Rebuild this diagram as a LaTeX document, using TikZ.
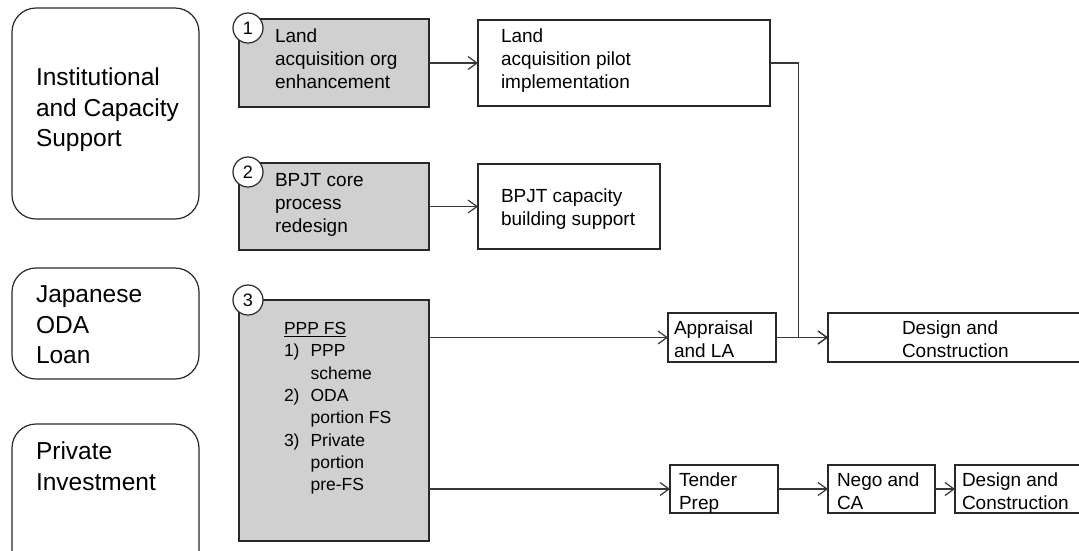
\documentclass[tikz,border=0pt]{standalone}
\usepackage{fontspec}
\setmainfont{Liberation Sans}
\usetikzlibrary{arrows.meta,calc}
\definecolor{boxgray}{RGB}{208,208,208}
\definecolor{edge}{RGB}{40,40,40}
\definecolor{wire}{RGB}{55,55,55}
\begin{document}
\begin{tikzpicture}[x=1pt,y=-1pt,
  every node/.style={inner sep=0pt,outer sep=0pt},
  group/.style={draw=edge,line width=1.2pt,rectangle,rounded corners=24pt,anchor=north west},
  plain/.style={draw=edge,line width=1.3pt,rectangle,anchor=north west,fill=white},
  shaded/.style={plain,fill=boxgray},
  num/.style={draw=edge,line width=1.2pt,circle,fill=white,minimum size=30pt,
    font=\fontsize{18}{20}\selectfont},
  bigtxt/.style={anchor=north west,align=left,font=\fontsize{24.5}{30.5}\selectfont},
  txt/.style={anchor=north west,align=left,font=\fontsize{19}{23}\selectfont},
  conn/.style={draw=wire,line width=1.2pt,-{Straight Barb[length=9pt,width=13pt]}}
]
\useasboundingbox (0,0) rectangle (1079,550);
\clip (0,0) rectangle (1079,550);

% funding streams on the left
\node[group,minimum width=187pt,minimum height=211pt] (inst) at (12,8) {};
\node[bigtxt] (instT) at ($(inst.north west)+(24,60)$) {Institutional\\and Capacity\\Support};
\node[group,minimum width=187pt,minimum height=111pt] (oda) at (12,268) {};
\node[bigtxt] (odaT) at ($(oda.north west)+(24,18)$) {Japanese\\ODA\\Loan};
\node[group,minimum width=187pt,minimum height=160pt] (priv) at (12,424) {};
\node[bigtxt] (privT) at ($(priv.north west)+(24,18)$) {Private\\Investment};

% technical assistance packages
\node[shaded,minimum width=190pt,minimum height=88pt] (b1) at (239,19) {};
\node[txt] (b1T) at ($(b1.north west)+(36,10)$) {Land\\acquisition org\\enhancement};
\node[num] (c1) at (248,28) {1};

\node[shaded,minimum width=190pt,minimum height=87pt] (b2) at (239,163) {};
\node[txt] (b2T) at ($(b2.north west)+(36,10.5)$) {BPJT core\\process\\redesign};
\node[num] (c2) at (248,172) {2};

\node[shaded,minimum width=190pt,minimum height=241pt] (b3) at (239,300) {};
\node[anchor=north west,font=\fontsize{17.5}{22.3}\selectfont] (b3T) at ($(b3.north west)+(45,19)$) {%
  \begin{tabular}{@{}l@{\hspace{11pt}}l@{}}
  \multicolumn{2}{@{}l@{}}{\underline{PPP FS}}\\
  1) & PPP\\
     & scheme\\
  2) & ODA\\
     & portion FS\\
  3) & Private\\
     & portion\\
     & pre-FS
  \end{tabular}};
\node[num] (c3) at (248,300) {3};

% follow-up activities
\node[plain,minimum width=292pt,minimum height=86pt] (r1) at (478,20) {};
\node[txt] (r1T) at ($(r1.north west)+(23,9)$) {Land\\acquisition pilot\\implementation};
\node[plain,minimum width=182pt,minimum height=85pt] (r2) at (478,164) {};
\node[txt] (r2T) at ($(r2.north west)+(23,24.4)$) {BPJT capacity\\building support};

\node[plain,minimum width=108pt,minimum height=49pt] (app) at (668,313) {};
\node[txt] (appT) at ($(app.north west)+(6,8)$) {Appraisal\\and LA};
\node[plain,minimum width=257pt,minimum height=49pt] (des1) at (828,313) {};
\node[txt] (des1T) at ($(des1.north west)+(74,8)$) {Design and\\Construction};

\node[plain,minimum width=108pt,minimum height=48pt] (ten) at (670,465) {};
\node[txt] (tenT) at ($(ten.north west)+(9,8)$) {Tender\\Prep};
\node[plain,minimum width=107pt,minimum height=48pt] (nego) at (828,465) {};
\node[txt] (negoT) at ($(nego.north west)+(9,8)$) {Nego and\\CA};
\node[plain,minimum width=130pt,minimum height=48pt] (des2) at (955,465) {};
\node[txt] (des2T) at ($(des2.north west)+(7,8)$) {Design and\\Construction};

% connectors
\draw[conn] (b1.east) -- (r1.west);
\draw[conn] (b2.east) -- (r2.west);
\draw[conn] (b3.east |- app.west) -- (app.west);
\draw[conn] (b3.east |- ten.west) -- (ten.west);
\draw[conn] (app.east) -- (des1.west);
\coordinate (merge) at ($(app.east)!0.44!(des1.west)$);
\draw[conn] (r1.east) -| (merge) -- (des1.west);
\draw[conn] (ten.east) -- (nego.west);
\draw[conn] (nego.east) -- (des2.west);
\end{tikzpicture}
\end{document}
